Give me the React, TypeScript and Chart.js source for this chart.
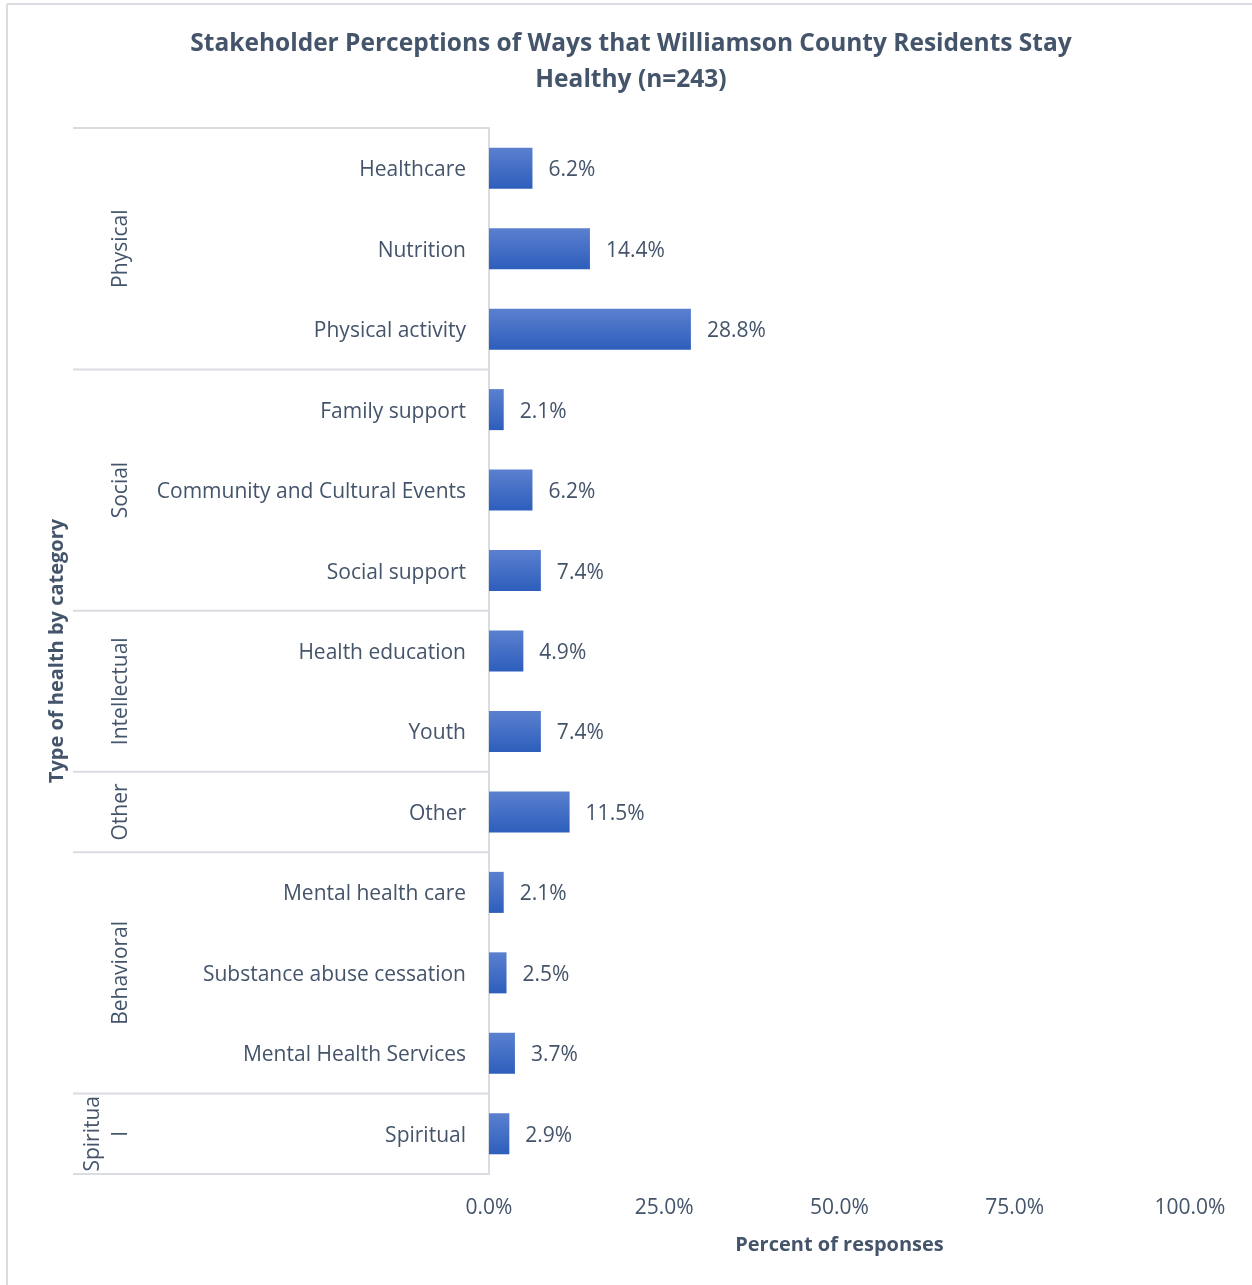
import React, { useEffect, useRef } from "react";
import { Chart, registerables } from "chart.js";

Chart.register(...registerables);

const titleLines = [
  "Stakeholder Perceptions of Ways that Williamson County Residents Stay",
  "Healthy (n=243)",
];
const categories = [
  "Healthcare",
  "Nutrition",
  "Physical activity",
  "Family support",
  "Community and Cultural Events",
  "Social support",
  "Health education",
  "Youth",
  "Other",
  "Mental health care",
  "Substance abuse cessation",
  "Mental Health Services",
  "Spiritual",
];
const values = [6.2, 14.4, 28.8, 2.1, 6.2, 7.4, 4.9, 7.4, 11.5, 2.1, 2.5, 3.7, 2.9];
const groupNames = [["Physical"], ["Social"], ["Intellectual"], ["Other"], ["Behavioral"], ["Spiritua", "l"]];
const groupStarts = [0, 3, 6, 8, 9, 12];
const groupSizes = [3, 3, 2, 1, 3, 1];
const xTicks = [0, 25, 50, 75, 100];
const xTitle = "Percent of responses";
const yTitle = "Type of health by category";

const TEXT = "#44546A";
const LINE = "#D9DCE1";
const FONT = "'Open Sans', 'DejaVu Sans', sans-serif";

const decorPlugin = {
  id: "decor",
  beforeDraw(chart: any) {
    const ctx = chart.ctx;
    ctx.save();
    ctx.fillStyle = "#ffffff";
    ctx.fillRect(0, 0, chart.width, chart.height);
    ctx.strokeStyle = LINE;
    ctx.lineWidth = 2;
    ctx.beginPath();
    ctx.moveTo(7, 4);
    ctx.lineTo(chart.width, 4);
    ctx.moveTo(7, 4);
    ctx.lineTo(7, chart.height);
    ctx.stroke();
    // title
    ctx.fillStyle = TEXT;
    ctx.font = `bold 24.5px ${FONT}`;
    ctx.textAlign = "center";
    ctx.textBaseline = "middle";
    titleLines.forEach((t, i) => ctx.fillText(t, 631, 44 + i * 36));
    ctx.restore();
  },
  afterDraw(chart: any) {
    const ctx = chart.ctx;
    const y = chart.scales.y;
    const area = chart.chartArea;
    const catH = (area.bottom - area.top) / categories.length;
    ctx.save();
    ctx.strokeStyle = LINE;
    ctx.lineWidth = 2;
    const bounds: number[] = [];
    groupStarts.forEach((s) => bounds.push(y.getPixelForValue(s) - catH / 2));
    bounds.push(area.bottom);
    ctx.beginPath();
    bounds.forEach((b) => {
      ctx.moveTo(73, b);
      ctx.lineTo(area.left, b);
    });
    ctx.stroke();
    ctx.fillStyle = TEXT;
    ctx.font = `21px ${FONT}`;
    ctx.textAlign = "center";
    ctx.textBaseline = "middle";
    groupNames.forEach((lines, g) => {
      const s = groupStarts[g];
      const e = s + groupSizes[g] - 1;
      const cy = (y.getPixelForValue(s) + y.getPixelForValue(e)) / 2;
      lines.forEach((ln, k) => {
        const cx = 121 - (lines.length - 1 - k) * 28;
        ctx.save();
        ctx.translate(cx, cy);
        ctx.rotate(-Math.PI / 2);
        ctx.fillText(ln, 0, 0);
        ctx.restore();
      });
    });
    ctx.restore();
  },
  afterDatasetsDraw(chart: any) {
    const ctx = chart.ctx;
    const meta = chart.getDatasetMeta(0);
    ctx.save();
    ctx.fillStyle = TEXT;
    ctx.font = `21px ${FONT}`;
    ctx.textAlign = "left";
    ctx.textBaseline = "middle";
    meta.data.forEach((el: any, i: number) => {
      ctx.fillText(`${values[i].toFixed(1)}%`, el.x + 16, el.y + 2);
    });
    ctx.restore();
  },
};

export default function App() {
  const ref = useRef<HTMLCanvasElement | null>(null);
  useEffect(() => {
    if (!ref.current) return;
    const chart = new Chart(ref.current, {
      type: "bar",
      data: {
        labels: categories,
        datasets: [
          {
            data: values,
            barPercentage: 0.51,
            categoryPercentage: 1,
            backgroundColor: (c: any) => {
              const ch = c.chart;
              const area = ch.chartArea;
              const ys = ch.scales?.y;
              if (!area || !ys || c.dataIndex === undefined) return "#3E6AC6";
              const catH = (area.bottom - area.top) / categories.length;
              const h = catH * 0.51;
              const cy = ys.getPixelForValue(c.dataIndex);
              const g = ch.ctx.createLinearGradient(0, cy - h / 2, 0, cy + h / 2);
              g.addColorStop(0, "#5B80CF");
              g.addColorStop(1, "#2D5EBC");
              return g;
            },
            borderWidth: 0,
          },
        ],
      },
      options: {
        indexAxis: "y",
        animation: false,
        responsive: true,
        maintainAspectRatio: false,
        layout: { padding: { left: 0, right: 62, top: 128, bottom: 28 } },
        plugins: {
          legend: { display: false },
          tooltip: { enabled: false },
          title: { display: false },
        },
        scales: {
          x: {
            min: 0,
            max: 100,
            afterBuildTicks: (s: any) => {
              s.ticks = xTicks.map((v) => ({ value: v }));
            },
            afterFit: (s: any) => {
              s.height = 83;
            },
            grid: { display: false, drawTicks: false },
            border: { display: false },
            ticks: {
              padding: 21,
              color: TEXT,
              font: { family: FONT, size: 21 },
              callback: (v: any) => `${Number(v).toFixed(1)}%`,
            },
            title: {
              display: true,
              text: xTitle,
              color: TEXT,
              font: { family: FONT, size: 20, weight: "bold" },
              padding: { top: 0, bottom: 0 },
            },
          },
          y: {
            afterFit: (s: any) => {
              s.width = 489;
            },
            grid: { display: false, drawTicks: false },
            border: { display: true, color: LINE, width: 2 },
            ticks: {
              padding: 23,
              labelOffset: 2,
              color: TEXT,
              font: { family: FONT, size: 21 },
            },
            title: {
              display: true,
              text: yTitle,
              color: TEXT,
              font: { family: FONT, size: 20, weight: "bold" },
              padding: { top: 45, bottom: 0 },
            },
          },
        },
      },
      plugins: [decorPlugin],
    } as any);
    return () => chart.destroy();
  }, []);
  return (
    <div style={{ position: "absolute", left: 0, top: 0, width: 1252, height: 1285 }}>
      <canvas ref={ref} />
    </div>
  );
}
